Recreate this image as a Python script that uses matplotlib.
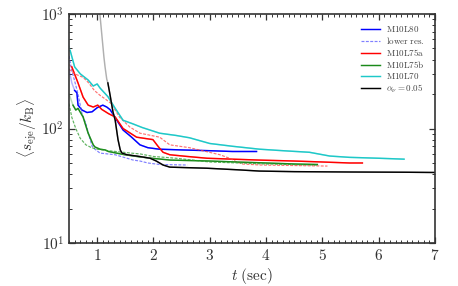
import numpy as np
import matplotlib
matplotlib.use('Agg')
import matplotlib.pyplot as plt
from matplotlib.ticker import MultipleLocator, LogLocator, NullFormatter

plt.rcParams['mathtext.fontset'] = 'cm'
plt.rcParams['font.family'] = 'serif'

# M10L80 (blue solid)
t_m80 = [0.5, 0.55, 0.6, 0.64, 0.66, 0.73, 0.82, 0.91, 1.0, 1.1, 1.17, 1.23, 1.35,
         1.46, 1.6, 1.76, 1.9, 2.1, 2.5, 3.0, 3.4, 3.83]
y_m80 = [330, 250, 215, 205, 160, 145, 138, 140, 152, 160, 154, 146, 118,
         97, 85, 72, 68, 66, 65, 64, 63, 63]

# lower res. of M10L80 (blue dashed)
t_m80lr = [0.5, 0.55, 0.6, 0.66, 0.73, 0.8, 0.86, 0.91, 0.96, 1.05, 1.32, 1.64,
           1.76, 1.9, 2.11, 2.6]
y_m80lr = [430, 320, 260, 200, 135, 110, 85, 70, 66, 61, 59, 53,
           52, 50, 48.5, 48]

# M10L75a (red solid)
t_m75a = [0.5, 0.55, 0.66, 0.75, 0.84, 0.93, 1.01, 1.08, 1.2, 1.32, 1.46, 1.7,
          1.99, 2.08, 2.17, 2.29, 2.6, 2.95, 3.4, 3.88, 4.5, 5.0, 5.48, 5.71]
y_m75a = [360, 345, 250, 188, 160, 154, 160, 147, 135, 126, 100, 84,
          80, 70, 62, 59, 57, 55, 54, 53, 52, 51, 50, 50]

# lower res. of M10L75a (red dashed)
t_m75a_lr = [0.5, 0.6, 0.75, 0.85, 0.95, 1.05, 1.15, 1.25, 1.4, 1.58, 1.76, 2.11,
             2.29, 2.64, 3.18, 3.35, 3.48, 3.58, 3.9, 4.5, 5.09]
y_m75a_lr = [330, 300, 280, 250, 215, 195, 180, 165, 125, 103, 91, 84,
             72, 68, 59, 55, 51, 49, 48, 47.5, 47]

# M10L75b (green solid)
t_m75b = [0.5, 0.57, 0.62, 0.66, 0.75, 0.84, 0.93, 0.96, 1.05, 1.14, 1.2, 1.49,
          1.76, 1.97, 2.3, 3.0, 3.48, 4.0, 4.5, 4.91]
y_m75b = [200, 160, 145, 150, 126, 91, 72, 69, 66, 65, 63, 59,
          56.5, 55, 53, 52, 51, 50, 49, 48.5]

# lower res. of M10L75b (green dashed)
t_m75b_lr = [0.5, 0.55, 0.62, 0.7, 0.8, 0.9, 1.0, 1.2, 1.6, 1.76, 2.0, 2.4,
             3.0, 3.5, 4.0, 4.9]
y_m75b_lr = [165, 125, 100, 82, 72, 68, 66, 64, 61, 60, 57, 55,
             51, 50, 49, 48]

# M10L70 (cyan)
t_m70 = [0.5, 0.52, 0.6, 0.7, 0.84, 0.93, 1.0, 1.05, 1.19, 1.32, 1.46, 1.63,
         1.8, 2.11, 2.4, 2.64, 3.0, 3.4, 3.88, 4.3, 4.77, 5.13, 5.48, 6.0, 6.45]
y_m70 = [520, 480, 345, 300, 265, 235, 245, 226, 190, 150, 118, 110,
         102, 91, 87, 83, 74, 70, 66, 64, 62, 57.5, 56, 55, 54]

# alpha_nu = 0.05 (black, gray at early times)
t_av = [1.04, 1.08, 1.12, 1.14, 1.17, 1.19, 1.23, 1.28, 1.32, 1.37, 1.41, 1.44,
        1.53, 1.75, 1.94, 2.05, 2.17, 2.29, 2.6, 2.95, 3.53, 3.88, 4.5, 5.5, 6.5, 7.0]
y_av = [1100, 680, 420, 345, 270, 250, 195, 140, 118, 80, 65, 61,
        59, 57, 55, 52, 48, 46, 45.5, 45, 43.5, 42.5, 42, 41.7, 41.5, 41.3]

LW = 1.05
DASH = (0, (2.5, 1.2))


def faded_line(ax, t, y, color, t_fade, label, fade_color=None):
    t = np.array(t)
    y = np.array(y)
    if fade_color is None:
        ax.plot(t, y, color=color, lw=LW, alpha=0.3)
    else:
        ax.plot(t, y, color=fade_color, lw=LW)
    m = t >= t_fade
    ax.plot(t[m], y[m], color=color, lw=LW, label=label)


fig = plt.figure(figsize=(4.58, 2.86), dpi=100)
ax = fig.add_axes([0.1507, 0.1503, 0.7991, 0.8007])

faded_line(ax, t_m80, y_m80, 'blue', 0.6, r'$\mathrm{M10L80}$')
ax.plot(t_m80lr, y_m80lr, color='#5555ff', lw=0.85, ls=DASH, alpha=0.75,
        label=r'$\mathrm{lower\ res.}$')
faded_line(ax, t_m75a, y_m75a, 'red', 0.55, r'$\mathrm{M10L75a}$')
ax.plot(t_m75a_lr, y_m75a_lr, color='#ff4444', lw=0.85, ls=DASH, alpha=0.75)
faded_line(ax, t_m75b, y_m75b, '#1a8a1a', 0.55, r'$\mathrm{M10L75b}$')
ax.plot(t_m75b_lr, y_m75b_lr, color='#2a9a2a', lw=0.85, ls=DASH, alpha=0.75)
faded_line(ax, t_m70, y_m70, '#1ec8c8', 0.52, r'$\mathrm{M10L70}$')
faded_line(ax, t_av, y_av, 'k', 1.19, r'$\alpha_\nu=0.05$', fade_color='#b0b0b0')

ax.set_yscale('log')
ax.set_xlim(0.5, 7)
ax.set_ylim(10, 1000)
ax.set_xticks([1, 2, 3, 4, 5, 6, 7])
ax.set_xticklabels([r'$%d$' % i for i in range(1, 8)])
ax.set_yticks([10, 100, 1000])
ax.set_yticklabels([r'$10^1$', r'$10^2$', r'$10^3$'])
ax.xaxis.set_minor_locator(MultipleLocator(0.1))
ax.yaxis.set_minor_locator(LogLocator(base=10, subs=np.arange(2, 10)))
ax.yaxis.set_minor_formatter(NullFormatter())
ax.tick_params(which='both', direction='in', top=True, right=True, colors='#333333',
               labelcolor='#333333', labelsize=11)
ax.tick_params(which='major', length=4, width=0.9)
ax.tick_params(which='minor', length=2, width=0.7)
for s in ax.spines.values():
    s.set_color('#333333')
    s.set_linewidth(1.2)

ax.set_xlabel(r'$t\ \mathrm{(sec)}$', fontsize=11, color='#333333', labelpad=2)
ax.set_ylabel(r'$\langle s_\mathrm{eje}/k_\mathrm{B}\rangle$', fontsize=11,
              color='#333333', labelpad=2)

leg = ax.legend(loc='upper right', frameon=False, fontsize=6.5, handlelength=2.1,
                labelspacing=0.12, borderaxespad=0.7, handletextpad=0.7)
for txt in leg.get_texts():
    txt.set_color('#444444')

fig.savefig('out.png', dpi=100)
